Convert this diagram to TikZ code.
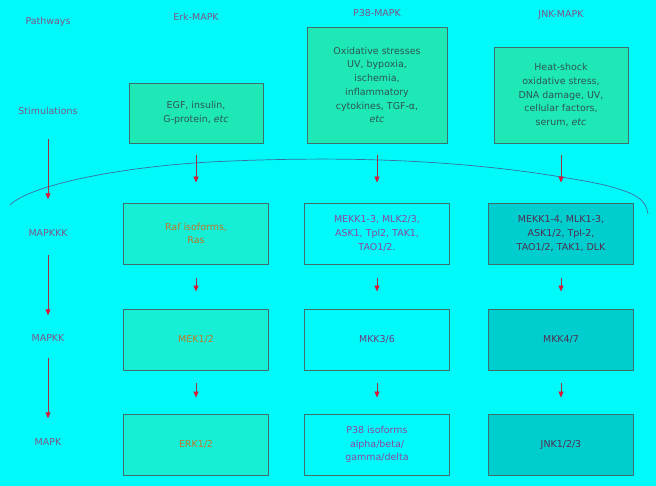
\documentclass[tikz,border=0pt]{standalone}
\usepackage{fontspec}
\setmainfont{DejaVu Sans}
\usetikzlibrary{arrows.meta}
\definecolor{bgcyan}{RGB}{0,250,250}
\definecolor{stimfill}{RGB}{30,232,182}
\definecolor{erkfill}{RGB}{22,238,214}
\definecolor{jnkfill}{RGB}{0,206,206}
\definecolor{boxline}{RGB}{60,110,110}
\definecolor{labtext}{RGB}{125,85,135}
\definecolor{stimtext}{RGB}{45,85,85}
\definecolor{raftext}{RGB}{190,120,40}
\definecolor{p38text}{RGB}{140,70,160}
\definecolor{jnktext}{RGB}{80,45,80}
\definecolor{arrline}{RGB}{160,50,70}
\definecolor{arrtip}{RGB}{215,25,60}
\definecolor{curveline}{RGB}{60,110,160}
\begin{document}
\begin{tikzpicture}[x=1bp,y=-1bp,line join=round,
  font=\fontsize{9.5}{13.8}\selectfont,
  box/.style={draw=boxline,line width=0.9bp,align=center,inner sep=0pt,
    minimum width=145bp,minimum height=61bp},
  stimbox/.style={box,fill=stimfill,text=stimtext,minimum width=134bp},
  lab/.style={text=labtext,inner sep=0pt},
  arr/.style={draw=arrline,line width=0.8bp,
    -{Triangle[width=5bp,length=6bp,color=arrtip]}}]
  % page and background
  \fill[bgcyan] (0,0) rectangle (656,486);
  \useasboundingbox (0,0) rectangle (656,486);
  % headers and row labels
  \node[lab] (path) at (48,22) {Pathways};
  \node[lab] (erkh) at (196,17) {Erk-MAPK};
  \node[lab] (p38h) at (377,13) {P38-MAPK};
  \node[lab] (jnkh) at (561,15) {JNK-MAPK};
  \node[lab] (stim) at (48,111) {Stimulations};
  \node[lab] (mkkk) at (48,233) {MAPKKK};
  \node[lab] (mkk)  at (48,338) {MAPKK};
  \node[lab] (mk)   at (48,442) {MAPK};
  % stimulations
  \node[stimbox,minimum height=60bp] (erk-s) at (196,113)
    {EGF, insulin,\\G-protein, \textit{etc}};
  \node[stimbox,minimum width=140bp,minimum height=116bp] (p38-s) at (377,85)
    {Oxidative stresses\\UV, bypoxia,\\ischemia,\\inflammatory\\cytokines, TGF-α,\\\textit{etc}};
  \node[stimbox,minimum height=96bp] (jnk-s) at (561,95)
    {Heat-shock\\oxidative stress,\\DNA damage, UV,\\cellular factors,\\serum, \textit{etc}};
  % Erk column
  \node[box,fill=erkfill,text=raftext] (erk-1) at (196,233.5) {Raf isoforms,\\Ras};
  \node[box,fill=erkfill,text=raftext] (erk-2) at (196,339.5) {MEK1/2};
  \node[box,fill=erkfill,text=raftext] (erk-3) at (196,444.5) {ERK1/2};
  % P38 column
  \node[box,text=p38text] (p38-1) at (377,233.5)
    {MEKK1-3, MLK2/3,\\ASK1, Tpl2, TAK1,\\TAO1/2.};
  \node[box,text=p38text!80!black] (p38-2) at (377,339.5) {MKK3/6};
  \node[box,text=p38text] (p38-3) at (377,444.5)
    {P38 isoforms\\alpha/beta/\\gamma/delta};
  % JNK column
  \node[box,fill=jnkfill,text=jnktext] (jnk-1) at (561,233.5)
    {MEKK1-4, MLK1-3,\\ASK1/2, Tpl-2,\\TAO1/2, TAK1, DLK};
  \node[box,fill=jnkfill,text=jnktext] (jnk-2) at (561,339.5) {MKK4/7};
  \node[box,fill=jnkfill,text=jnktext] (jnk-3) at (561,444.5) {JNK1/2/3};
  % membrane curve
  \draw[curveline,line width=0.7bp] (10,205) .. controls (30,185) and (120,167) .. (210,162)
    .. controls (350,155) and (480,160) .. (600,184)
    .. controls (638,193) and (646,200) .. (648,214);
  % left arrows
  \draw[arr,shorten <=24bp,shorten >=30bp] (stim) -- (mkkk);
  \draw[arr,shorten <=18bp,shorten >=19bp] (mkkk) -- (mkk);
  \draw[arr,shorten <=16bp,shorten >=20bp] (mkk) -- (mk);
  % column arrows
  \foreach \c in {erk,p38,jnk}{
    \draw[arr,shorten <=12bp,shorten >=20bp] (\c-s) -- (\c-1);
    \draw[arr,shorten <=14bp,shorten >=17bp] (\c-1) -- (\c-2);
    \draw[arr,shorten <=13bp,shorten >=16bp] (\c-2) -- (\c-3);
  }
\end{tikzpicture}
\end{document}
